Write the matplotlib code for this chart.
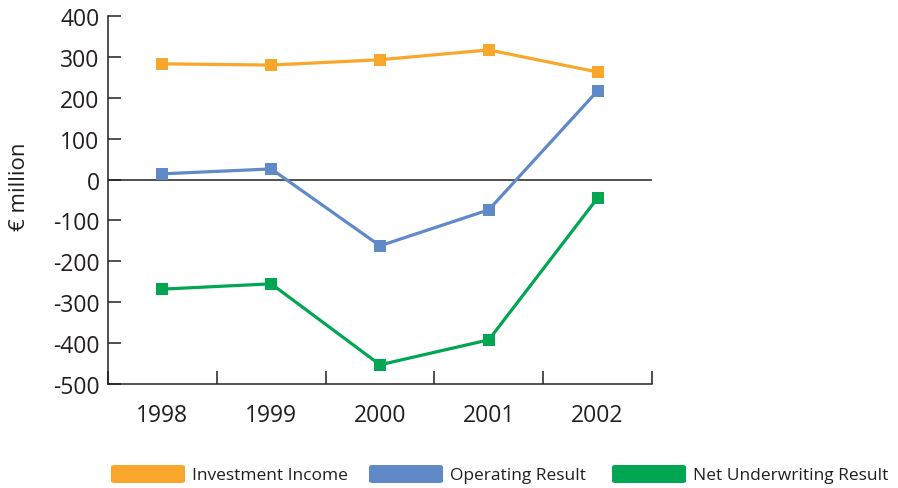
import matplotlib
matplotlib.use("Agg")
import matplotlib.pyplot as plt
from matplotlib.patches import FancyBboxPatch

years = ["1998", "1999", "2000", "2001", "2002"]
investment_income = [283, 280, 293, 317, 263]
operating_result = [14, 26, -162, -74, 217]
net_underwriting = [-268, -255, -453, -392, -45]
series_names = ["Investment Income", "Operating Result", "Net Underwriting Result"]
colors = ["#F9A72B", "#5F8AC7", "#00A651"]
y_ticks = [400, 300, 200, 100, 0, -100, -200, -300, -400, -500]

plt.rcParams["font.family"] = ["Open Sans", "DejaVu Sans"]
ink = "#231F20"

fig = plt.figure(figsize=(8.98, 4.89), dpi=100)
W, H = 898, 489
ax = fig.add_axes([108 / W, 1 - 385 / H, 544 / W, 368 / H])

x = list(range(len(years)))
for vals, c in zip([investment_income, operating_result, net_underwriting], colors):
    ax.plot(x, vals, color=c, lw=2.3, marker="s", markersize=8,
            markeredgewidth=0, zorder=3)

ax.axhline(0, color=ink, lw=1.1, zorder=2)

ax.set_xlim(-0.5, len(years) - 0.5)
ax.set_ylim(-500, 400)
ax.set_yticks(y_ticks)
ax.set_yticklabels([str(v) for v in y_ticks], fontsize=16.5, color=ink)
ax.set_xticks(x)
ax.set_xticklabels(years, fontsize=16.5, color=ink)
ax.set_xticks([i - 0.5 for i in range(len(years) + 1)], minor=True)

ax.tick_params(axis="y", direction="in", length=9.5, width=1.1, color=ink, pad=6)
ax.tick_params(axis="x", which="major", length=0, pad=14)
ax.tick_params(axis="x", which="minor", direction="in", length=9.5, width=1.1, color=ink)

for side in ["top", "right"]:
    ax.spines[side].set_visible(False)
for side in ["left", "bottom"]:
    ax.spines[side].set_color(ink)
    ax.spines[side].set_linewidth(1.1)

ax.set_ylabel("€ million", fontsize=16, color=ink)
ax.yaxis.set_label_coords(-0.143, 0.54)

# legend row beneath the axes
legend_x = [111, 369, 612]
for lx, name, c in zip(legend_x, series_names, colors):
    patch = FancyBboxPatch((lx / W, 1 - 484 / H), 74 / W, 18 / H,
                           boxstyle="round,pad=0,rounding_size=0.004",
                           transform=fig.transFigure, facecolor=c,
                           edgecolor="none")
    fig.patches.append(patch)
    fig.text((lx + 81) / W, 1 - 476 / H, name, fontsize=12.5, color=ink,
             va="center", ha="left")

fig.savefig("out.png", dpi=100)
